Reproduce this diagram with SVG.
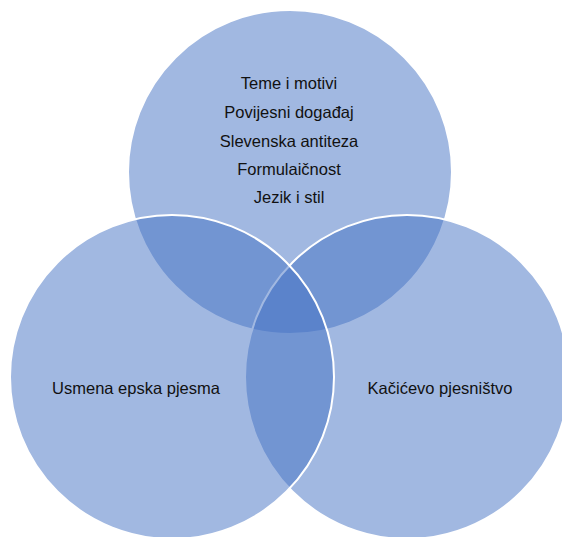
<svg xmlns="http://www.w3.org/2000/svg" width="562" height="537" viewBox="0 0 562 537">
<style>
.c{fill:#4472C4;fill-opacity:0.5;stroke:#FFFFFF;stroke-width:2}
.t{font-family:"Liberation Sans",Arial,sans-serif;font-size:16.5px;fill:#111111;text-anchor:middle}
</style>
<rect width="562" height="537" fill="#FFFFFF"/>
<g id="top">
<circle class="c" cx="290" cy="172" r="162"/>
</g>
<g id="right">
<circle class="c" cx="407" cy="377" r="162"/>
</g>
<g id="left">
<circle class="c" cx="172" cy="377" r="162"/>
</g>
<g id="connectors"></g>
<g id="labels-top">
<text class="t" x="289" y="89">Teme i motivi</text>
<text class="t" x="289" y="118">Povijesni događaj</text>
<text class="t" x="289" y="147">Slevenska antiteza</text>
<text class="t" x="289" y="175">Formulaičnost</text>
<text class="t" x="289" y="203">Jezik i stil</text>
</g>
<g id="label-left"><text class="t" x="136" y="394">Usmena epska pjesma</text></g>
<g id="label-right"><text class="t" x="440" y="394">Kačićevo pjesništvo</text></g>
</svg>
